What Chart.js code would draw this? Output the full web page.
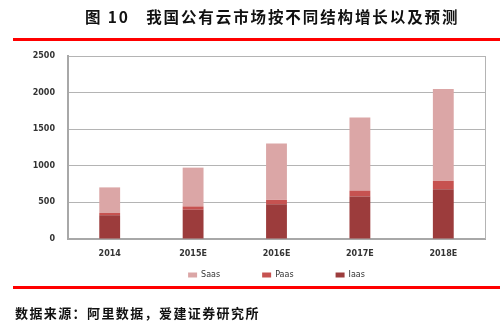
<!DOCTYPE html>
<html>
<head>
<meta charset="utf-8">
<script src="https://cdn.jsdelivr.net/npm/chart.js@4/dist/chart.umd.min.js"></script>
<style>
  body { margin: 0; background: #fff; }
  #wrap { position: relative; width: 500px; height: 324px; overflow: hidden; }
  #chart { position: absolute; left: 0; top: 0; }
  .title { position: absolute; left: 85px; top: 5px; font: bold 15.5px "Noto Sans CJK SC", sans-serif; color: #111; letter-spacing: 1.9px; white-space: nowrap; }
  .rule { position: absolute; left: 13px; width: 487px; height: 3px; background: #ff0000; }
  .source { position: absolute; left: 15px; top: 303px; font: bold 13px "Noto Sans CJK SC", sans-serif; color: #111; letter-spacing: 1.4px; white-space: nowrap; }
</style>
</head>
<body>
<div id="wrap">
  <canvas id="chart" width="500" height="324"></canvas>
  <div class="title">图 10&nbsp;&nbsp;&nbsp;我国公有云市场按不同结构增长以及预测</div>
  <div class="rule" style="top:38px"></div>
  <div class="rule" style="top:286px"></div>
  <div class="source">数据来源：阿里数据，爱建证券研究所</div>
</div>
<script>
const years = ['2014', '2015E', '2016E', '2017E', '2018E'];
const iaas = [325, 400, 475, 580, 680];
const paas = [30, 45, 60, 80, 115];
const saas = [350, 530, 770, 1000, 1255];
const yTicks = [0, 500, 1000, 1500, 2000, 2500];

// right edge of the plot box
const boxEdge = {
    id: 'boxEdge',
    afterDraw(chart) {
        const a = chart.chartArea;
        const ctx = chart.ctx;
        ctx.save();
        ctx.strokeStyle = '#b4b4b4';
        ctx.lineWidth = 1;
        ctx.beginPath();
        ctx.moveTo(a.right + 0.5, a.top);
        ctx.lineTo(a.right + 0.5, a.bottom);
        ctx.stroke();
        ctx.restore();
    }
};

const tickFont = { family: 'DejaVu Sans', size: 8, weight: 'bold' };

new Chart(document.getElementById('chart').getContext('2d'), {
    type: 'bar',
    data: {
        labels: years,
        datasets: [
            { label: 'Iaas', data: iaas, backgroundColor: '#9c3c3c' },
            { label: 'Paas', data: paas, backgroundColor: '#c65250' },
            { label: 'Saas', data: saas, backgroundColor: '#dba6a6' },
        ],
    },
    options: {
        responsive: false,
        animation: false,
        layout: { padding: { top: 56, right: 15, bottom: 35, left: 0 } },
        datasets: { bar: { categoryPercentage: 1, barPercentage: 0.25 } },
        plugins: {
            legend: {
                position: 'bottom',
                fullSize: false,
                reverse: true,
                labels: {
                    boxWidth: 9,
                    boxHeight: 5,
                    padding: 10,
                    color: '#333',
                    font: { family: 'DejaVu Sans', size: 8 },
                    // widen the gap between items without adding vertical room
                    generateLabels(chart) {
                        const items = Chart.defaults.plugins.legend.labels.generateLabels(chart);
                        items.forEach((it) => {
                            if (it.text !== 'Iaas') it.text += '\u2003\u2003\u2003\u2003';
                        });
                        return items;
                    },
                },
            },
            tooltip: { enabled: false },
        },
        scales: {
            x: {
                stacked: true,
                grid: { display: false, drawTicks: false },
                border: { color: '#a8a8a8', width: 2 },
                ticks: { color: '#333', font: tickFont, padding: 10, autoSkip: false, maxRotation: 0 },
                afterFit(scale) { scale.height = 22; },
            },
            y: {
                stacked: true,
                min: 0,
                max: 2500,
                afterBuildTicks(scale) { scale.ticks = yTicks.map((v) => ({ value: v })); },
                grid: { color: '#b4b4b4', drawTicks: false },
                border: { color: '#a8a8a8', width: 2 },
                ticks: {
                    color: '#333',
                    font: tickFont,
                    padding: 13,
                    callback: (v) => String(v),
                },
                afterFit(scale) { scale.width = 68; },
            },
        },
    },
    plugins: [boxEdge],
});
</script>
</body>
</html>
